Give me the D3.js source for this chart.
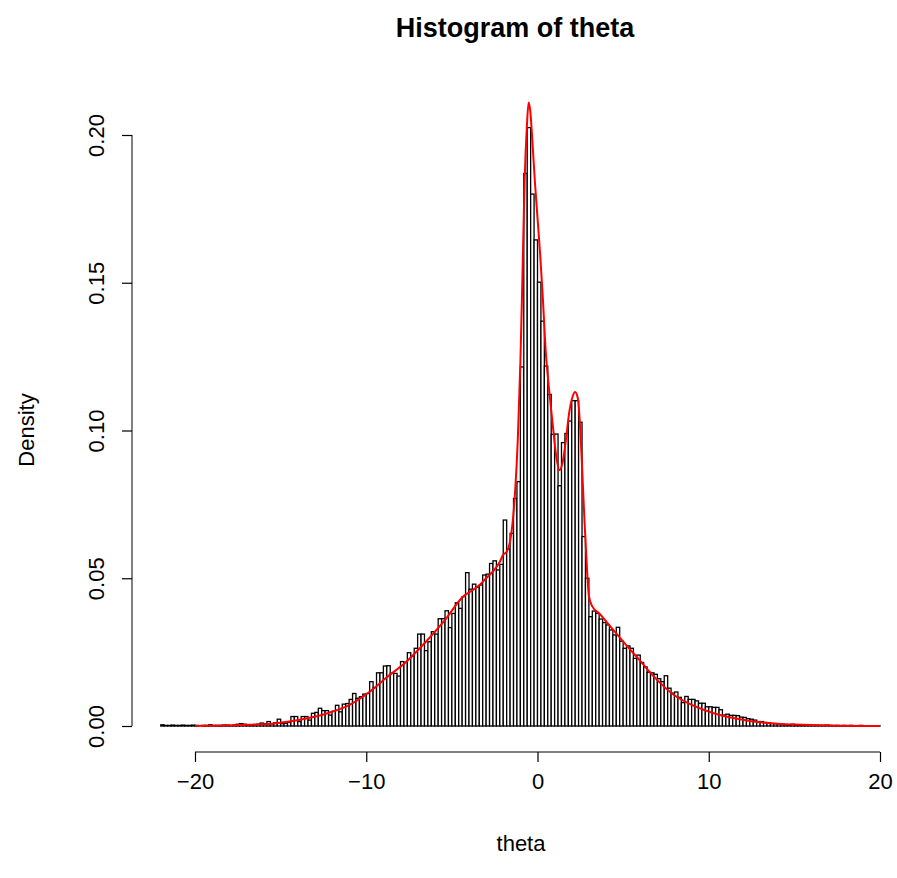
<!DOCTYPE html>
<html>
<head>
<meta charset="utf-8">
<script src="https://cdn.jsdelivr.net/npm/d3@7"></script>
<style>
  body { margin: 0; background: #fff; }
  text { font-family: "Liberation Sans", Arial, sans-serif; fill: #000; }
</style>
</head>
<body>
<svg id="chart" width="897" height="878"></svg>
<script>
// histogram breaks (first edge + bin width) and bar densities
const breakStart = -22
const breakWidth = 0.2
const densities = [
  0.0004, 0.0002, 0.0002, 0.0003, 0.0002, 0.0002, 0.0003, 0.0002, 0.0002, 0.0003,
  0.0002, 0.0000, 0.0002, 0.0002, 0.0004, 0.0002, 0.0002, 0.0002, 0.0003, 0.0003,
  0.0002, 0.0003, 0.0006, 0.0008, 0.0006, 0.0004, 0.0004, 0.0005, 0.0006, 0.0010,
  0.0008, 0.0015, 0.0007, 0.0011, 0.0023, 0.0008, 0.0009, 0.0012, 0.0032, 0.0032,
  0.0015, 0.0032, 0.0032, 0.0020, 0.0043, 0.0046, 0.0060, 0.0052, 0.0052, 0.0037,
  0.0050, 0.0070, 0.0048, 0.0074, 0.0076, 0.0090, 0.0110, 0.0094, 0.0099, 0.0108,
  0.0110, 0.0150, 0.0130, 0.0180, 0.0180, 0.0203, 0.0204, 0.0178, 0.0178, 0.0169,
  0.0218, 0.0215, 0.0248, 0.0237, 0.0263, 0.0311, 0.0311, 0.0255, 0.0285, 0.0319,
  0.0311, 0.0363, 0.0363, 0.0390, 0.0333, 0.0381, 0.0417, 0.0398, 0.0438, 0.0519,
  0.0463, 0.0480, 0.0470, 0.0477, 0.0511, 0.0514, 0.0550, 0.0559, 0.0528, 0.0547,
  0.0697, 0.0599, 0.0652, 0.0770, 0.0827, 0.1215, 0.1870, 0.2025, 0.1800, 0.1645,
  0.1502, 0.1370, 0.1218, 0.1122, 0.0987, 0.0988, 0.0813, 0.0959, 0.0990, 0.1032,
  0.1101, 0.1101, 0.1028, 0.0641, 0.0500, 0.0370, 0.0389, 0.0381, 0.0362, 0.0350,
  0.0342, 0.0325, 0.0308, 0.0334, 0.0287, 0.0263, 0.0271, 0.0263, 0.0229, 0.0240,
  0.0215, 0.0200, 0.0182, 0.0180, 0.0175, 0.0160, 0.0150, 0.0170, 0.0128, 0.0111,
  0.0115, 0.0097, 0.0079, 0.0100, 0.0090, 0.0090, 0.0085, 0.0077, 0.0077, 0.0065,
  0.0065, 0.0063, 0.0063, 0.0055, 0.0037, 0.0040, 0.0036, 0.0036, 0.0035, 0.0030,
  0.0029, 0.0025, 0.0023, 0.0020, 0.0015, 0.0015, 0.0012, 0.0010, 0.0008, 0.0008,
  0.0007, 0.0006, 0.0005, 0.0004, 0.0006, 0.0003, 0.0003, 0.0004, 0.0002, 0.0003,
  0.0002, 0.0003, 0.0002, 0.0002, 0.0003, 0.0002, 0.0001, 0.0002, 0.0001, 0.0002,
  0.0001, 0.0002, 0.0001, 0.0001, 0.0002, 0.0001, 0.0000, 0.0001, 0.0001, 0.0001
]

// kernel density estimate (red line), sampled by eye
const curveTheta = [
  -20, -19, -18, -17, -16, -15.65, -14.5, -13.3, -12.17, -11, -9.8, -8.8, -7.76, -6.6,
  -5.4, -4.4, -3.4, -3, -2.5, -2.2, -2, -1.8, -1.6, -1.45, -1.3, -1.15, -1, -0.88,
  -0.75, -0.62, -0.52, -0.42, -0.3, -0.15, 0, 0.15, 0.3, 0.49, 0.68, 0.88, 1.07,
  1.27, 1.46, 1.66, 1.85, 2.05, 2.2, 2.35, 2.5, 2.6, 2.75, 2.9, 3, 3.2, 3.62, 4.4,
  5.18, 5.96, 6.8, 7.97, 9.14, 10.3, 11.5, 12.6, 14, 15, 16, 18, 20
]
const curveDensity = [
  0.0000, 0.0001, 0.0002, 0.0004, 0.0006, 0.0007, 0.0015, 0.0028, 0.0045, 0.0071, 0.0116, 0.0165, 0.0212, 0.0280,
  0.0359, 0.0435, 0.0476, 0.0500, 0.0530, 0.0556, 0.0580, 0.0590, 0.0625, 0.0690, 0.0800, 0.0970, 0.1230, 0.1520,
  0.1850, 0.2030, 0.2110, 0.2080, 0.1980, 0.1840, 0.1720, 0.1600, 0.1460, 0.1260, 0.1137, 0.1025, 0.0924,
  0.0866, 0.0890, 0.0968, 0.1060, 0.1115, 0.1130, 0.1110, 0.1000, 0.0880, 0.0687, 0.0520, 0.0440, 0.0405, 0.0380, 0.0327,
  0.0274, 0.0223, 0.0167, 0.0105, 0.0068, 0.0043, 0.0026, 0.0015, 0.0008, 0.0005, 0.0003, 0.0001, 0.0000
]

const xTicks = [-20, -10, 0, 10, 20]
const yTicks = [0, 0.05, 0.1, 0.15, 0.2]

const svg = d3.select("#chart")
const x = d3.scaleLinear().domain([-20, 20]).range([195, 880])
const y = d3.scaleLinear().domain([0, 0.2]).range([726, 135])

const bins = densities.map((d, i) => ({
    x0: breakStart + i * breakWidth,
    x1: breakStart + (i + 1) * breakWidth,
    density: d
}))

// Bars
svg.append("g")
    .selectAll("rect")
    .data(bins)
    .join("rect")
    .attr("x", d => x(d.x0))
    .attr("width", d => x(d.x1) - x(d.x0))
    .attr("y", d => y(d.density))
    .attr("height", d => y(0) - y(d.density))
    .style("fill", "#fff")
    .style("stroke", "#000")
    .style("stroke-width", 1.3)

// Density line
const line = d3.line()
    .x(d => x(d[0]))
    .y(d => y(d[1]))
    .curve(d3.curveMonotoneX)

svg.append("path")
    .datum(d3.zip(curveTheta, curveDensity))
    .attr("d", line)
    .style("fill", "none")
    .style("stroke", "#ff0000")
    .style("stroke-width", 2)

// x axis, R style: line only between the outer ticks
const fmtX = v => v < 0 ? "\u2212" + Math.abs(v) : String(v)
const gx = svg.append("g")
    .attr("transform", "translate(0,752)")
    .call(d3.axisBottom(x).tickValues(xTicks).tickSize(10).tickFormat(fmtX))
gx.select(".domain").remove()
gx.append("line")
    .attr("x1", x(xTicks[0])).attr("x2", x(xTicks[xTicks.length - 1]))
    .style("stroke", "#000")
gx.selectAll(".tick line").style("stroke-width", 1.2)
gx.selectAll(".tick text")
    .attr("y", 21)
    .attr("dy", "0.71em")
    .style("font-size", "22px")
    .style("font-family", "Liberation Sans, Arial, sans-serif")

// y axis, labels parallel to the axis
const gy = svg.append("g")
    .attr("transform", "translate(132,0)")
    .call(d3.axisLeft(y).tickValues(yTicks).tickSize(10).tickFormat(d3.format(".2f")))
gy.select(".domain").remove()
gy.append("line")
    .attr("y1", y(yTicks[0])).attr("y2", y(yTicks[yTicks.length - 1]))
    .style("stroke", "#000")
gy.selectAll(".tick line").style("stroke-width", 1.2)
gy.selectAll(".tick text")
    .attr("x", null).attr("dy", null)
    .attr("transform", "translate(-28,0) rotate(-90)")
    .attr("text-anchor", "middle")
    .style("font-size", "22px")
    .style("font-family", "Liberation Sans, Arial, sans-serif")

// Titles
svg.append("text")
    .attr("x", 515).attr("y", 37)
    .attr("text-anchor", "middle")
    .style("font-size", "27px")
    .style("font-weight", "bold")
    .text("Histogram of theta")

svg.append("text")
    .attr("x", 521).attr("y", 851)
    .attr("text-anchor", "middle")
    .style("font-size", "22px")
    .text("theta")

svg.append("text")
    .attr("transform", "translate(34,430) rotate(-90)")
    .attr("text-anchor", "middle")
    .style("font-size", "22px")
    .text("Density")
</script>
</body>
</html>
